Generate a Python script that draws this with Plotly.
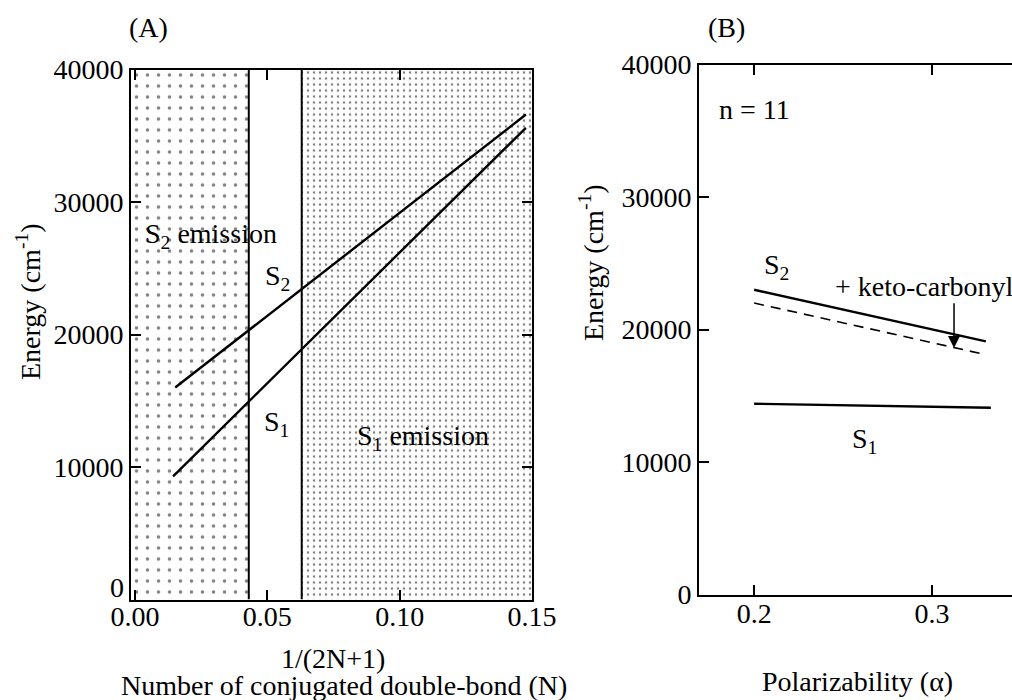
import plotly.graph_objects as go

FONT = "Liberation Serif"
FS = 28

# ---------------- Panel A data ----------------
a_xrange = [-0.0015, 0.15]
energy_range = [0, 40000]
s2_emission_x = [-0.0015, 0.043]     # S2-emission region (sparse dots)
s1_emission_x = [0.063, 0.15]        # S1-emission region (dense dots)
boundary_x = [0.043, 0.063]          # region boundaries
a_s2_x = [0.0152, 0.1477]
a_s2_y = [16000, 36600]
a_s1_x = [0.0144, 0.1477]
a_s1_y = [9300, 35600]
a_xticks = [0.0, 0.05, 0.10, 0.15]
a_xticktext = ["0.00", "0.05", "0.10", "0.15"]
energy_ticks = [0, 10000, 20000, 30000, 40000]
energy_ticktext = ["0", "10000", "20000", "30000", "40000"]
# panel A prints its "0" label slightly above the axis; drawn separately
a_energy_ticktext = ["", "10000", "20000", "30000", "40000"]

# ---------------- Panel B data ----------------
b_xrange = [0.169, 0.345]
b_s2_x = [0.2, 0.3303]
b_s2_y = [23000, 19100]
b_keto_x = [0.2, 0.3303]
b_keto_y = [22000, 18100]
b_s1_x = [0.2, 0.3331]
b_s1_y = [14400, 14100]
b_xticks = [0.2, 0.3]
b_xticktext = ["0.2", "0.3"]
arrow_x = 0.3124
arrow_y = [22100, 18600]

fig = go.Figure()


def rect(xs, ys):
    return [xs[0], xs[1], xs[1], xs[0], xs[0]], [ys[0], ys[0], ys[1], ys[1], ys[0]]


rx, ry = rect(s2_emission_x, energy_range)
fig.add_trace(go.Scatter(x=rx, y=ry, fill="toself", mode="lines", line=dict(width=0),
                         fillcolor="white",
                         fillpattern=dict(shape=".", size=11, solidity=0.08,
                                          fgcolor="black", bgcolor="white"),
                         xaxis="x", yaxis="y", showlegend=False, hoverinfo="skip"))
rx, ry = rect(s1_emission_x, energy_range)
fig.add_trace(go.Scatter(x=rx, y=ry, fill="toself", mode="lines", line=dict(width=0),
                         fillcolor="white",
                         fillpattern=dict(shape=".", size=6, solidity=0.14,
                                          fgcolor="black", bgcolor="white"),
                         xaxis="x", yaxis="y", showlegend=False, hoverinfo="skip"))
for bx in boundary_x:
    fig.add_trace(go.Scatter(x=[bx, bx], y=energy_range, mode="lines",
                             line=dict(color="black", width=2),
                             xaxis="x", yaxis="y", showlegend=False, hoverinfo="skip"))

fig.add_trace(go.Scatter(x=a_s2_x, y=a_s2_y, mode="lines", line=dict(color="black", width=2.4),
                         xaxis="x", yaxis="y", showlegend=False))
fig.add_trace(go.Scatter(x=a_s1_x, y=a_s1_y, mode="lines", line=dict(color="black", width=2.4),
                         xaxis="x", yaxis="y", showlegend=False))

# Panel B traces
fig.add_trace(go.Scatter(x=b_s2_x, y=b_s2_y, mode="lines", line=dict(color="black", width=2.4),
                         xaxis="x2", yaxis="y2", showlegend=False))
fig.add_trace(go.Scatter(x=b_keto_x, y=b_keto_y, mode="lines",
                         line=dict(color="black", width=1.6, dash="10px,7px"),
                         xaxis="x2", yaxis="y2", showlegend=False))
fig.add_trace(go.Scatter(x=b_s1_x, y=b_s1_y, mode="lines", line=dict(color="black", width=2.4),
                         xaxis="x2", yaxis="y2", showlegend=False))

tickfont = dict(family=FONT, size=FS, color="black")
axis_common = dict(showline=True, linewidth=2, linecolor="black", ticks="inside",
                   ticklen=10, tickwidth=1.5, tickcolor="black", showgrid=False,
                   zeroline=False, tickfont=tickfont, automargin=False)

fig.update_layout(
    width=1012, height=700,
    margin=dict(l=0, r=0, t=0, b=0),
    paper_bgcolor="white", plot_bgcolor="white",
    font=dict(family=FONT, size=FS, color="black"),
    xaxis=dict(domain=[131 / 1012, 532 / 1012], range=a_xrange, anchor="y",
               tickvals=a_xticks, ticktext=a_xticktext, mirror="ticks",
               ticklabelstandoff=-9, **axis_common),
    yaxis=dict(domain=[1 - 599.5 / 700, 1 - 69.5 / 700], range=energy_range, anchor="x",
               tickvals=energy_ticks, ticktext=a_energy_ticktext, mirror="ticks", **axis_common),
    xaxis2=dict(domain=[699 / 1012, 1.0], range=b_xrange, anchor="y2",
                tickvals=b_xticks, ticktext=b_xticktext, mirror="ticks",
                ticklabelstandoff=-7, **axis_common),
    yaxis2=dict(domain=[1 - 594.5 / 700, 1 - 64.5 / 700], range=energy_range, anchor="x2",
                tickvals=energy_ticks, ticktext=energy_ticktext, mirror=False, **axis_common),
)


def ann_paper(text, px, py, angle=0, size=FS, xanchor="center"):
    fig.add_annotation(text=text, x=px / 1012, y=1 - py / 700, xref="paper", yref="paper",
                       showarrow=False, textangle=angle, xanchor=xanchor, yanchor="middle",
                       font=dict(family=FONT, size=size, color="black"))


def ann_data(text, x, y, ax="x", xanchor="center"):
    fig.add_annotation(text=text, x=x, y=y, xref=ax, yref="y" if ax == "x" else "y2",
                       showarrow=False, xanchor=xanchor, yanchor="middle",
                       font=dict(family=FONT, size=FS, color="black"))


ann_paper("(A)", 148, 27)
ann_paper("(B)", 726, 27)
ann_paper(energy_ticktext[0], 126, 587, xanchor="right")
ann_paper("Energy (cm<sup>-1</sup>)", 28, 302, angle=-90)
ann_paper("Energy (cm<sup>-1</sup>)", 592, 263, angle=-90)
ann_paper("1/(2N+1)", 333, 658)
ann_paper("Number of conjugated double-bond (N)", 344, 685)
ann_paper("Polarizability (\u03b1)", 857, 681)

ann_data("S<sub>2</sub> emission", 0.003, 27500, xanchor="left")
ann_data("S<sub>2</sub>", 0.0538, 24340)
ann_data("S<sub>1</sub>", 0.0534, 13320)
ann_data("S<sub>1</sub> emission", 0.0833, 12190, xanchor="left")

ann_data("n = 11", 0.1792, 36570, ax="x2", xanchor="left")
ann_data("S<sub>2</sub>", 0.2124, 24720, ax="x2")
ann_data("+ keto-carbonyl", 0.2445, 23210, ax="x2", xanchor="left")
ann_data("S<sub>1</sub>", 0.2618, 11660, ax="x2")

fig.add_annotation(x=arrow_x, y=arrow_y[1], ax=arrow_x, ay=arrow_y[0],
                   xref="x2", yref="y2", axref="x2", ayref="y2",
                   showarrow=True, arrowhead=2, arrowsize=1.6, arrowwidth=1.5,
                   arrowcolor="black", text="")

fig.write_html("out.html")
